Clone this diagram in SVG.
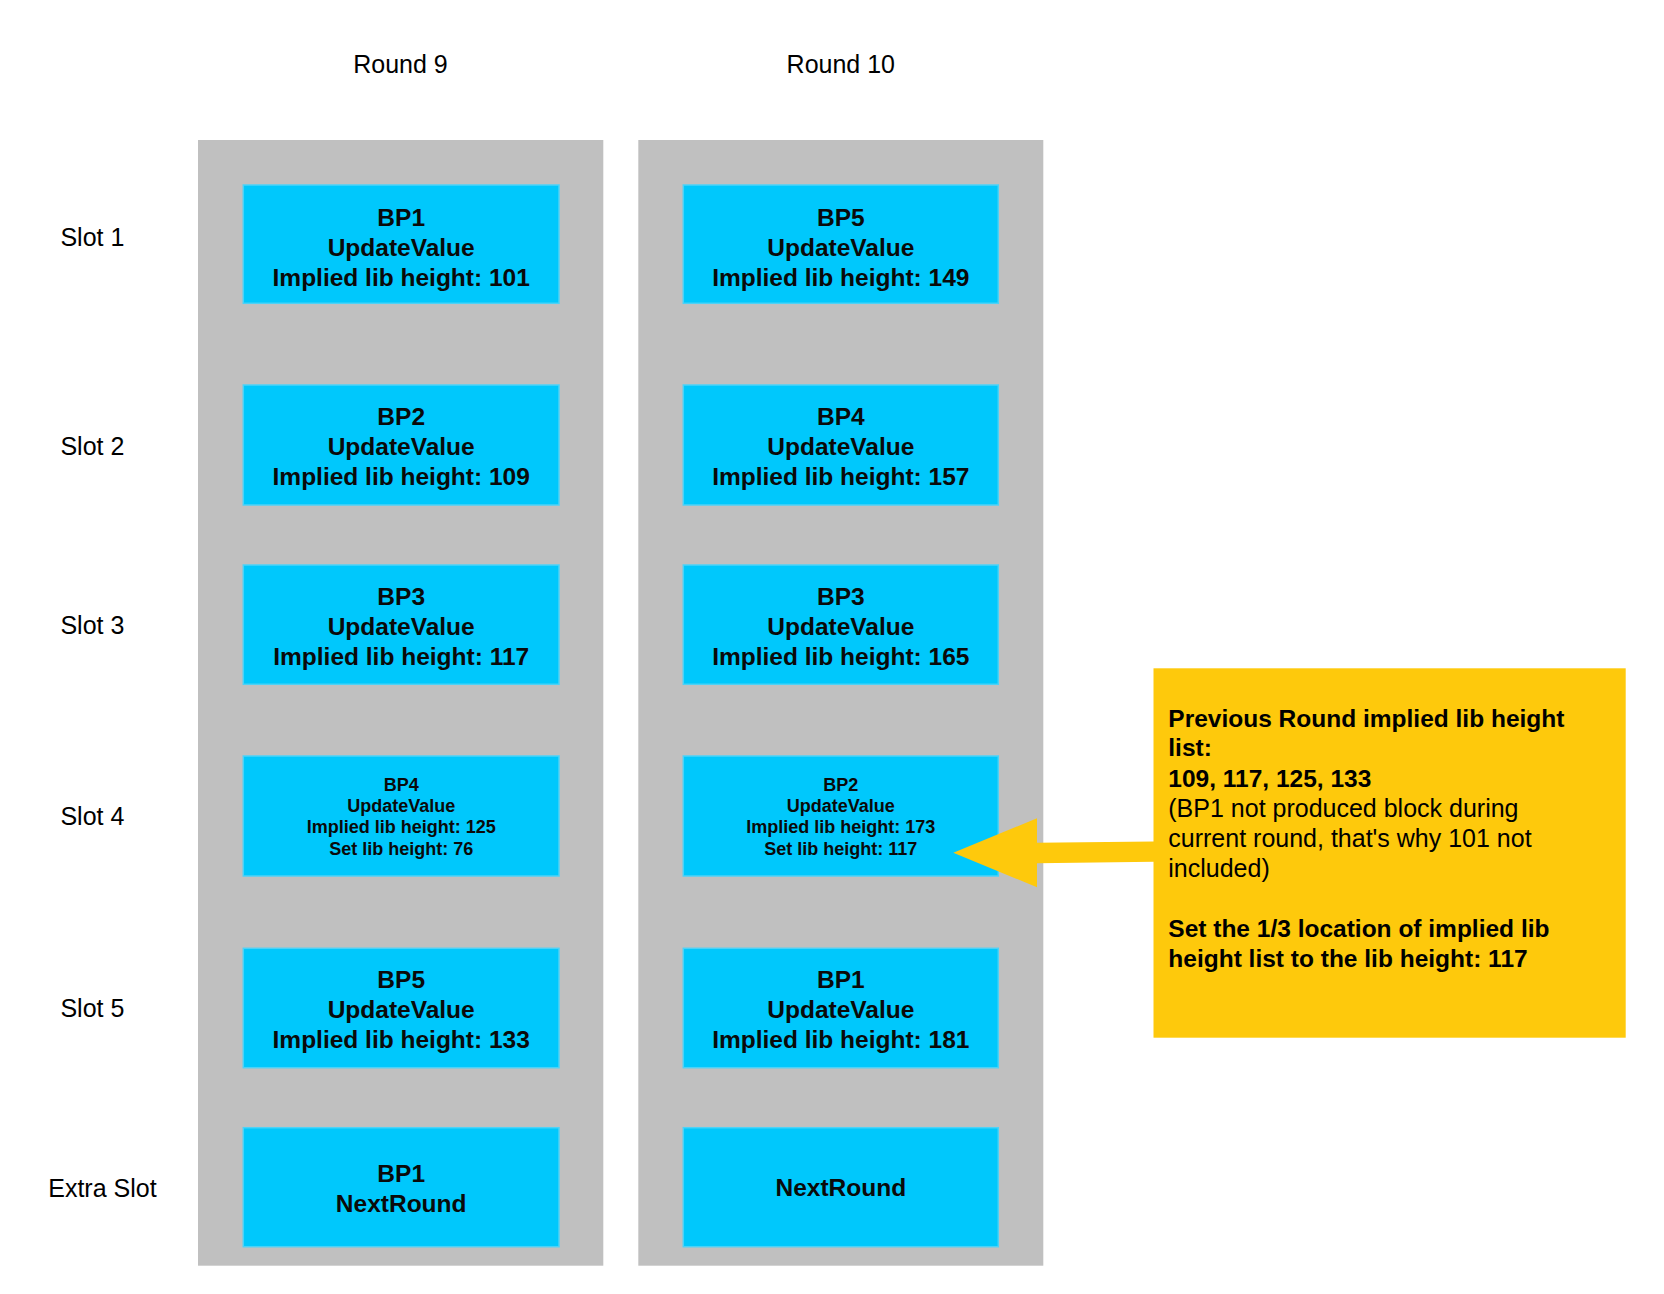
<svg xmlns="http://www.w3.org/2000/svg" width="1664" height="1294" viewBox="0 0 1664 1294">
<style>
text{font-family:"Liberation Sans",Arial,Helvetica,sans-serif;fill:#000}
.lbl{font-size:25px}
.col{fill:#c0c0c0}
.box{fill:#00c8fc;stroke:#4cd2f7;stroke-width:1.5}
.bt{font-size:24.5px;font-weight:bold;text-anchor:middle;fill:#0a0a0a}
.st{font-size:18px;font-weight:bold;text-anchor:middle;fill:#0a0a0a}
.note{fill:#fec90c}
.nb{font-size:24.5px;font-weight:bold}
.nr{font-size:25px}
.arr{fill:#fec90c}
</style>
<rect width="1664" height="1294" fill="#fff"/>
<g id="headers">
<text class="lbl" x="400.5" y="73" text-anchor="middle">Round 9</text>
<text class="lbl" x="840.8" y="73" text-anchor="middle">Round 10</text>
</g>
<g id="slot-labels">
<text class="lbl" x="92.4" y="246" text-anchor="middle">Slot 1</text>
<text class="lbl" x="92.4" y="455" text-anchor="middle">Slot 2</text>
<text class="lbl" x="92.4" y="634" text-anchor="middle">Slot 3</text>
<text class="lbl" x="92.4" y="825" text-anchor="middle">Slot 4</text>
<text class="lbl" x="92.4" y="1017" text-anchor="middle">Slot 5</text>
<text class="lbl" x="102.4" y="1197" text-anchor="middle">Extra Slot</text>
</g>
<g id="round9">
<rect class="col" x="198" y="140" width="405.3" height="1125.7"/>
</g>
<g id="round10">
<rect class="col" x="638.3" y="140" width="405" height="1125.7"/>
</g>
<g id="r9-slot1">
<rect class="box" x="243.3" y="185" width="315.7" height="118.3"/>
<text class="bt" x="401.2" y="226">BP1</text>
<text class="bt" x="401.2" y="256">UpdateValue</text>
<text class="bt" x="401.2" y="285.5">Implied lib height: 101</text>
</g>
<g id="r9-slot2">
<rect class="box" x="243.3" y="385" width="315.7" height="120"/>
<text class="bt" x="401.2" y="425">BP2</text>
<text class="bt" x="401.2" y="455">UpdateValue</text>
<text class="bt" x="401.2" y="485">Implied lib height: 109</text>
</g>
<g id="r9-slot3">
<rect class="box" x="243.3" y="565" width="315.7" height="119.3"/>
<text class="bt" x="401.2" y="605">BP3</text>
<text class="bt" x="401.2" y="635">UpdateValue</text>
<text class="bt" x="401.2" y="665">Implied lib height: 117</text>
</g>
<g id="r9-slot4">
<rect class="box" x="243.3" y="756" width="315.7" height="120"/>
<text class="st" x="401.2" y="790.7">BP4</text>
<text class="st" x="401.2" y="811.7">UpdateValue</text>
<text class="st" x="401.2" y="833.3">Implied lib height: 125</text>
<text class="st" x="401.2" y="855">Set lib height: 76</text>
</g>
<g id="r9-slot5">
<rect class="box" x="243.3" y="948.3" width="315.7" height="119.4"/>
<text class="bt" x="401.2" y="988">BP5</text>
<text class="bt" x="401.2" y="1018">UpdateValue</text>
<text class="bt" x="401.2" y="1048">Implied lib height: 133</text>
</g>
<g id="r9-extra">
<rect class="box" x="243.3" y="1127.7" width="315.7" height="119"/>
<text class="bt" x="401.2" y="1181.7">BP1</text>
<text class="bt" x="401.2" y="1211.7">NextRound</text>
</g>
<g id="r10-slot1">
<rect class="box" x="683.3" y="185" width="315" height="118.3"/>
<text class="bt" x="840.8" y="226">BP5</text>
<text class="bt" x="840.8" y="256">UpdateValue</text>
<text class="bt" x="840.8" y="285.5">Implied lib height: 149</text>
</g>
<g id="r10-slot2">
<rect class="box" x="683.3" y="385" width="315" height="120"/>
<text class="bt" x="840.8" y="425">BP4</text>
<text class="bt" x="840.8" y="455">UpdateValue</text>
<text class="bt" x="840.8" y="485">Implied lib height: 157</text>
</g>
<g id="r10-slot3">
<rect class="box" x="683.3" y="565" width="315" height="119.3"/>
<text class="bt" x="840.8" y="605">BP3</text>
<text class="bt" x="840.8" y="635">UpdateValue</text>
<text class="bt" x="840.8" y="665">Implied lib height: 165</text>
</g>
<g id="r10-slot4">
<rect class="box" x="683.3" y="756" width="315" height="120"/>
<text class="st" x="840.8" y="790.7">BP2</text>
<text class="st" x="840.8" y="811.7">UpdateValue</text>
<text class="st" x="840.8" y="833.3">Implied lib height: 173</text>
<text class="st" x="840.8" y="855">Set lib height: 117</text>
</g>
<g id="r10-slot5">
<rect class="box" x="683.3" y="948.3" width="315" height="119.4"/>
<text class="bt" x="840.8" y="988">BP1</text>
<text class="bt" x="840.8" y="1018">UpdateValue</text>
<text class="bt" x="840.8" y="1048">Implied lib height: 181</text>
</g>
<g id="r10-extra">
<rect class="box" x="683.3" y="1127.7" width="315" height="119"/>
<text class="bt" x="840.8" y="1196">NextRound</text>
</g>
<g id="note">
<rect class="note" x="1153.5" y="668.3" width="472.2" height="369.4"/>
<text class="nb" x="1168.3" y="726.7">Previous Round implied lib height</text>
<text class="nb" x="1168.3" y="756.3">list:</text>
<text class="nb" x="1168.3" y="786.7">109, 117, 125, 133</text>
<text class="nr" x="1168.3" y="816.7">(BP1 not produced block during</text>
<text class="nr" x="1168.3" y="846.7">current round, that's why 101 not</text>
<text class="nr" x="1168.3" y="876.7">included)</text>
<text class="nb" x="1168.3" y="936.7">Set the 1/3 location of implied lib</text>
<text class="nb" x="1168.3" y="966.7">height list to the lib height: 117</text>
</g>
<g id="connectors">
<polygon class="arr" points="1154,841.5 1037,842.7 1037,818.3 953.3,852.7 1037,887.3 1037,863.3 1154,861.7"/>
</g>
</svg>
